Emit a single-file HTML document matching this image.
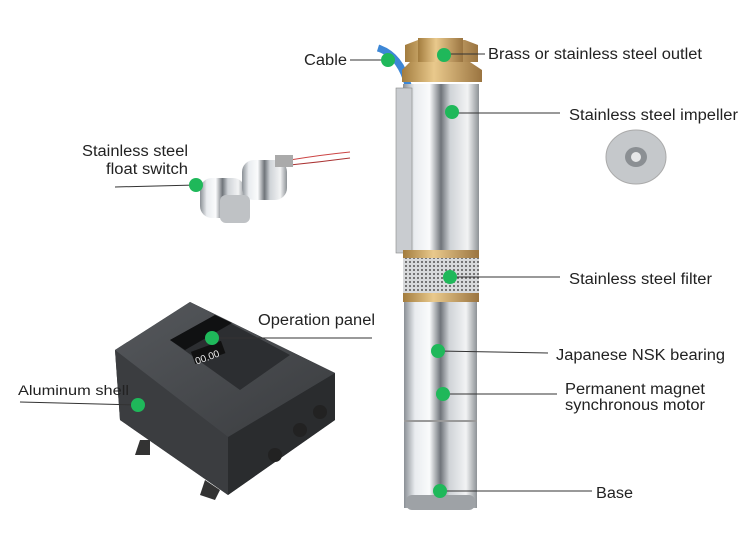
<!DOCTYPE html>
<html><head><meta charset="utf-8"><style>
html,body{margin:0;padding:0;background:#fff;}
svg{display:block;font-family:"Liberation Sans",Arial,sans-serif;}
</style></head><body>
<svg width="750" height="541" viewBox="0 0 750 541" xmlns="http://www.w3.org/2000/svg">
<defs>
<linearGradient id="steel" x1="0" x2="1" y1="0" y2="0">
<stop offset="0" stop-color="#8a8f95"/><stop offset="0.15" stop-color="#e9ecef"/>
<stop offset="0.35" stop-color="#fafbfc"/><stop offset="0.5" stop-color="#6f747a"/>
<stop offset="0.62" stop-color="#cfd3d7"/><stop offset="0.85" stop-color="#f2f3f4"/>
<stop offset="1" stop-color="#8d9296"/></linearGradient>
<linearGradient id="brass" x1="0" x2="1"><stop offset="0" stop-color="#a27c3e"/><stop offset="0.4" stop-color="#e9c98c"/><stop offset="1" stop-color="#9a7440"/></linearGradient>
<linearGradient id="dark" x1="0" x2="1" y1="0" y2="1"><stop offset="0" stop-color="#55585c"/><stop offset="1" stop-color="#3a3c3f"/></linearGradient>
<pattern id="mesh" width="4" height="4" patternUnits="userSpaceOnUse"><rect width="4" height="4" fill="#d8dadc"/><circle cx="2" cy="2" r="1" fill="#555"/></pattern>
</defs>

<path d="M378 48 Q400 55 408 85" stroke="#3d87d6" stroke-width="7" fill="none"/>
<path d="M405 45 L418 40 L465 40 L478 45 L478 62 L405 62Z" fill="url(#brass)"/>
<rect x="418" y="38" width="45" height="30" fill="url(#brass)"/>
<path d="M402 70 L410 62 L470 62 L482 70 L482 82 L402 82Z" fill="url(#brass)"/>
<rect x="403" y="84" width="76" height="170" fill="url(#steel)"/>
<rect x="396" y="88" width="16" height="165" fill="#c9ccd0" stroke="#888" stroke-width="0.6"/>
<rect x="403" y="250" width="76" height="8" fill="url(#brass)"/>
<rect x="403" y="258" width="76" height="36" fill="url(#mesh)"/>
<rect x="403" y="293" width="76" height="9" fill="url(#brass)"/>
<rect x="404" y="302" width="73" height="206" fill="url(#steel)"/>
<rect x="404" y="420" width="73" height="2" fill="#999"/>
<rect x="406" y="495" width="69" height="15" rx="6" fill="#9ea2a6"/>

<ellipse cx="636" cy="157" rx="30" ry="27" fill="#c5c8cb" stroke="#aaa"/>
<ellipse cx="636" cy="157" rx="11" ry="10" fill="#8b8f93"/>
<ellipse cx="636" cy="157" rx="5" ry="5" fill="#e6e7e8"/>

<path d="M290 160 Q320 155 350 152" stroke="#c44" stroke-width="1" fill="none"/>
<path d="M290 165 Q320 162 350 158" stroke="#a33" stroke-width="1" fill="none"/>
<rect x="200" y="178" width="45" height="40" rx="12" fill="url(#steel)"/>
<rect x="242" y="160" width="45" height="40" rx="12" fill="url(#steel)"/>
<rect x="220" y="195" width="30" height="28" rx="6" fill="#bfc2c5"/>
<rect x="275" y="155" width="18" height="12" fill="#aaa"/>

<polygon points="115,350 190,302 335,373 335,420 228,495 120,420" fill="#333538"/>
<polygon points="228,437 335,373 335,420 228,495" fill="#2a2c2e"/>
<polygon points="115,350 228,437 228,495 120,420" fill="#3b3d40"/>
<polygon points="115,350 190,302 335,373 228,437" fill="url(#dark)"/>
<polygon points="170,340 215,315 290,355 240,390" fill="#2c2e31"/>
<polygon points="170,340 215,315 232,323 185,350" fill="#101112"/>
<rect x="192" y="346" width="32" height="13" fill="#111" transform="rotate(-20 208 352)"/>
<text x="193" y="360" font-size="10" fill="#eee" transform="rotate(-20 208 352)">00.00</text>
<polygon points="140,440 150,440 150,455 135,455" fill="#333"/>
<polygon points="205,480 220,490 215,500 200,495" fill="#333"/>
<circle cx="300" cy="430" r="7" fill="#222"/><circle cx="320" cy="412" r="7" fill="#222"/><circle cx="275" cy="455" r="7" fill="#222"/>

<g stroke="#333" stroke-width="1">
<line x1="350" y1="60" x2="388" y2="60"/>
<line x1="444" y1="54" x2="485" y2="54"/>
<line x1="452" y1="113" x2="560" y2="113"/>
<line x1="115" y1="187" x2="196" y2="185"/>
<line x1="450" y1="277" x2="560" y2="277"/>
<line x1="212" y1="338" x2="372" y2="338"/>
<line x1="20" y1="402" x2="138" y2="405"/>
<line x1="438" y1="351" x2="548" y2="353"/>
<line x1="443" y1="394" x2="557" y2="394"/>
<line x1="440" y1="491" x2="592" y2="491"/>
</g>
<g fill="#1fb85a">
<circle cx="388" cy="60" r="7"/><circle cx="444" cy="55" r="7"/><circle cx="452" cy="112" r="7"/>
<circle cx="196" cy="185" r="7"/><circle cx="450" cy="277" r="7"/><circle cx="212" cy="338" r="7"/>
<circle cx="138" cy="405" r="7"/><circle cx="438" cy="351" r="7"/><circle cx="443" cy="394" r="7"/>
<circle cx="440" cy="491" r="7"/>
</g>
<g fill="#222" font-size="15.5" lengthAdjust="spacingAndGlyphs">
<text x="304" y="65" textLength="43" lengthAdjust="spacingAndGlyphs">Cable</text>
<text x="488" y="59" textLength="214" lengthAdjust="spacingAndGlyphs">Brass or stainless steel outlet</text>
<text x="569" y="120" textLength="169" lengthAdjust="spacingAndGlyphs">Stainless steel impeller</text>
<text x="82" y="156" textLength="106" lengthAdjust="spacingAndGlyphs">Stainless steel</text>
<text x="106" y="174" textLength="82" lengthAdjust="spacingAndGlyphs">float switch</text>
<text x="569" y="284" textLength="143" lengthAdjust="spacingAndGlyphs">Stainless steel filter</text>
<text x="258" y="325" textLength="117" lengthAdjust="spacingAndGlyphs">Operation panel</text>
<text x="18" y="395" font-size="13.5" textLength="111" lengthAdjust="spacingAndGlyphs">Aluminum shell</text>
<text x="556" y="360" textLength="169" lengthAdjust="spacingAndGlyphs">Japanese NSK bearing</text>
<text x="565" y="394" textLength="140" lengthAdjust="spacingAndGlyphs">Permanent magnet</text>
<text x="565" y="410" textLength="140" lengthAdjust="spacingAndGlyphs">synchronous motor</text>
<text x="596" y="498" textLength="37" lengthAdjust="spacingAndGlyphs">Base</text>
</g>
</svg>
</body></html>
